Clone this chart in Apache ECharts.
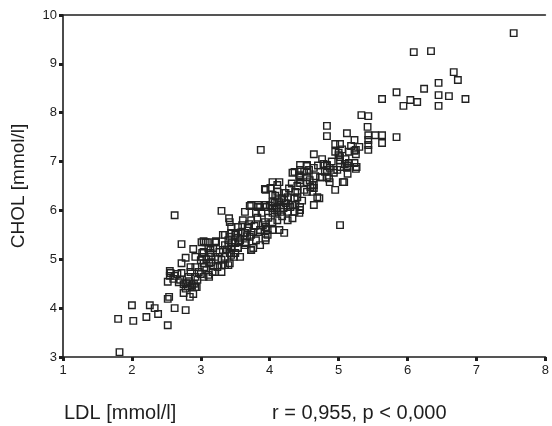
<!DOCTYPE html>
<html>
<head>
<meta charset="utf-8">
<script src="https://cdn.jsdelivr.net/npm/echarts@6/dist/echarts.min.js"></script>
<style>html,body{margin:0;padding:0;background:#fff}#c{width:552px;height:426px}</style>
</head>
<body>
<div id="c"></div>
<script>
const xTicks = [1, 2, 3, 4, 5, 6, 7, 8];
const yTicks = [3, 4, 5, 6, 7, 8, 9, 10];
const xTitle = 'LDL [mmol/l]';
const yTitle = 'CHOL [mmol/l]';
const statText = 'r = 0,955, p < 0,000';

// LDL values (x) and CHOL values (y)
const lowTail = [[1.80,3.78],[1.82,3.10],[2.00,4.06],[2.02,3.74],[2.21,3.82],[2.26,4.06],[2.33,4.00],[2.38,3.88],[2.52,4.19],[2.54,4.23],[2.52,3.65],[2.62,4.00],[2.78,3.96]];
const lowerCluster = [[2.62,5.90],[2.72,5.31],[2.89,5.21],[3.04,5.37],[2.55,4.76],[2.62,4.66],[2.55,4.66],[2.52,4.54],[2.56,4.72],[2.72,4.92],[2.78,5.03],[2.72,4.72],[2.68,4.53],[2.75,4.49],[2.81,4.45],[2.75,4.31],[2.84,4.23],[2.89,4.29],[2.92,4.43],[2.87,4.43],[2.82,4.64],[2.85,4.74],[2.92,4.84],[2.92,4.64],[2.97,4.74],[3.04,4.64],[3.05,4.84],[3.02,5.05],[3.02,5.13],[3.12,4.92],[3.17,4.74],[3.12,4.64],[3.24,4.84],[3.30,4.74],[3.21,5.05],[3.32,5.19],[3.30,4.99],[3.22,5.37],[3.32,5.50],[3.40,5.29],[3.42,5.13],[3.54,5.23],[3.57,5.05],[3.65,5.35],[3.73,5.19],[3.64,5.54],[3.73,5.50],[3.50,5.50],[3.10,5.35],[3.14,5.19],[3.42,4.92],[3.35,4.88],
[2.85,4.84],[2.79,4.51],[2.87,4.47],[2.94,4.43],[2.92,5.05],[3.01,5.35],[3.11,5.23],[3.14,5.13],[3.22,5.35],[3.04,4.92],[3.15,4.94],[3.21,4.74],[3.11,4.68],[3.30,4.88],[3.35,5.50],[3.40,5.39],[3.44,5.09],[3.40,4.88],[3.50,5.13],[3.50,5.33],[3.44,5.66],[3.51,5.54],[3.42,5.76],
[2.60,4.60],[2.66,4.70],[2.70,4.58],[2.78,4.40],[2.83,4.55],[2.90,4.50],[2.95,4.58],[3.00,4.70],[3.00,4.98],[3.08,5.00],[3.08,4.78],[3.15,5.05],[3.18,4.86],[3.25,5.00],[3.27,5.15],[3.35,5.05],[3.38,5.20],[3.45,5.35],[3.48,5.05],[3.55,5.35]];
const middleCluster = [[3.30,5.99],[3.41,5.84],[3.04,5.15],[3.21,5.35],[3.44,5.54],[3.54,5.66],[3.64,5.97],[3.61,5.80],[3.73,6.11],[3.83,6.11],[3.80,5.95],[3.73,5.80],[3.68,5.64],[3.76,5.56],[3.64,5.54],[3.57,5.39],[3.65,5.33],[3.73,5.19],[3.80,5.39],[3.86,5.60],[3.93,5.76],[3.94,6.11],[3.97,5.60],[3.94,5.39],[3.94,6.42],[4.04,6.58],[4.14,6.58],[4.11,6.52],[4.04,6.32],[4.04,6.17],[4.14,6.17],[4.04,5.95],[4.11,5.80],[4.04,5.76],[4.14,5.60],[4.21,5.54],[4.04,5.60],[4.23,6.36],[4.23,6.15],[4.33,6.11],[4.26,5.97],[4.36,5.97],[4.26,5.80],[4.33,5.84],[4.40,6.36],[4.43,6.68],[4.44,6.56],[4.50,6.42],[4.36,6.79],
[3.83,6.07],[3.71,6.09],[3.42,5.46],[3.54,5.44],[3.71,5.46],[3.83,5.56],[3.94,5.44],[3.86,5.29],[3.76,5.23],[3.64,5.29],[3.54,5.23],[3.44,5.25],[3.35,5.29],[3.18,5.23],[3.07,5.35],[3.93,6.44],[4.01,6.46],[4.11,6.38],[4.21,6.36],[4.26,6.27],[4.37,6.38],[4.36,6.25],[4.26,6.07],[4.16,6.11],[4.07,6.15],[4.07,6.01],[4.16,5.97],[4.43,5.95],[4.44,6.01],[3.94,5.66],[3.97,5.50],
[3.58,5.55],[3.60,5.70],[3.67,5.47],[3.70,5.72],[3.78,5.68],[3.82,5.85],[3.88,5.95],[3.90,5.70],[3.98,5.85],[4.00,6.10],[4.08,6.30],[4.10,6.05],[4.18,6.25],[4.20,6.05],[4.18,5.88],[4.28,6.45],[4.32,6.55],[4.40,6.50],[4.47,6.20]];
const upperCluster = [[3.87,7.24],[4.83,7.73],[4.83,7.52],[5.12,7.58],[4.95,7.36],[5.02,7.36],[5.23,7.44],[5.23,7.22],[5.25,7.15],[5.15,7.20],[5.00,7.18],[5.02,7.09],[4.64,7.15],[4.83,6.93],[4.87,6.87],[4.98,6.83],[5.09,6.95],[5.15,6.97],[5.12,6.87],[5.23,6.97],[5.26,6.89],[5.08,6.58],[4.95,6.42],[4.80,6.79],[4.86,6.66],[4.76,6.68],[4.64,6.87],[4.44,6.93],[4.54,6.93],[4.44,6.83],[4.57,6.83],[4.33,6.77],[4.43,6.72],[4.44,6.62],[4.54,6.58],[4.62,6.52],[4.64,6.46],[4.69,6.27],[4.72,6.25],[4.54,6.38],[4.62,6.38],[4.40,6.27],[4.44,6.07],[4.21,6.21],[4.11,6.21],[4.04,6.05],[4.11,5.97],[4.30,6.07],[4.37,6.11],[4.64,6.11],[3.86,6.07],[3.93,6.07],
[5.33,7.95],[5.43,7.93],[5.42,7.71],[5.43,7.54],[5.53,7.54],[5.63,7.54],[5.84,7.50],[5.63,7.38],[5.43,7.44],[5.43,7.34],[5.43,7.24],[5.25,7.24],[5.00,7.13],[5.02,7.03],[5.25,6.85],[5.13,6.91],[4.76,7.05],[4.93,6.83],[4.93,6.77],[4.83,6.68],[4.73,6.68],[5.06,6.58],[4.87,6.58],[4.54,6.91],[4.54,6.79],[4.44,6.68],[4.54,6.68],[4.64,6.52],[4.59,6.48],[5.13,6.75],[5.02,6.89],[4.83,6.91],[4.83,6.83],[5.02,5.70],
[4.50,6.80],[4.58,6.62],[4.66,6.70],[4.70,6.92],[4.78,6.95],[4.90,7.00],[4.95,7.20],[5.05,7.25],[5.10,7.05],[5.18,7.32],[5.30,7.30]];
const topTail = [[7.54,9.63],[6.09,9.24],[6.34,9.26],[6.67,8.83],[6.73,8.67],[6.45,8.61],[6.24,8.49],[5.84,8.42],[5.63,8.28],[6.04,8.26],[6.14,8.22],[5.94,8.14],[6.45,8.36],[6.60,8.34],[6.84,8.28],[6.45,8.14]];

const points = [].concat(lowTail, lowerCluster, middleCluster, upperCluster, topTail);

const ink = '#1e1e1e';
const font = 'Liberation Sans, Arial, Helvetica, sans-serif';

const chart = echarts.init(document.getElementById('c'), null, {renderer: 'canvas'});
chart.setOption({
  animation: false,
  backgroundColor: '#ffffff',
  grid: {left: 63, right: 1, top: 15, bottom: 69, containLabel: false},
  xAxis: [{
    type: 'value', min: xTicks[0], max: xTicks[xTicks.length - 1], interval: 1,
    axisLine: {show: true, onZero: false, lineStyle: {color: ink, width: 1.6}},
    axisTick: {show: true, inside: false, length: 4, lineStyle: {color: ink, width: 3}},
    axisLabel: {color: ink, fontSize: 13, fontFamily: font, margin: 7, showMaxLabel: true},
    splitLine: {show: false}
  }, {
    type: 'value', position: 'top', min: xTicks[0], max: xTicks[xTicks.length - 1],
    axisLine: {show: true, onZero: false, lineStyle: {color: ink, width: 1.6}},
    axisTick: {show: false}, axisLabel: {show: false}, splitLine: {show: false}
  }],
  yAxis: {
    type: 'value', min: yTicks[0], max: yTicks[yTicks.length - 1], interval: 1,
    name: yTitle, nameLocation: 'middle', nameGap: 35, nameRotate: 90,
    nameTextStyle: {color: ink, fontSize: 19, fontFamily: font},
    axisLine: {show: true, onZero: false, lineStyle: {color: ink, width: 1.6}},
    axisTick: {show: true, inside: false, length: 4, lineStyle: {color: ink, width: 3}},
    axisLabel: {color: ink, fontSize: 13, fontFamily: font, margin: 6},
    splitLine: {show: false}
  },
  graphic: [
    {type: 'text', left: 64, top: 403, style: {text: xTitle, fill: ink, font: '20px ' + font}},
    {type: 'text', left: 272, top: 403, style: {text: statText, fill: ink, font: '20px ' + font}}
  ],
  series: [{
    type: 'scatter',
    xAxisIndex: 0,
    data: points,
    symbol: 'rect',
    symbolSize: 6.5,
    itemStyle: {color: 'rgba(0,0,0,0)', borderColor: '#222', borderWidth: 1.4, opacity: 1}
  }]
});
</script>
</body>
</html>
